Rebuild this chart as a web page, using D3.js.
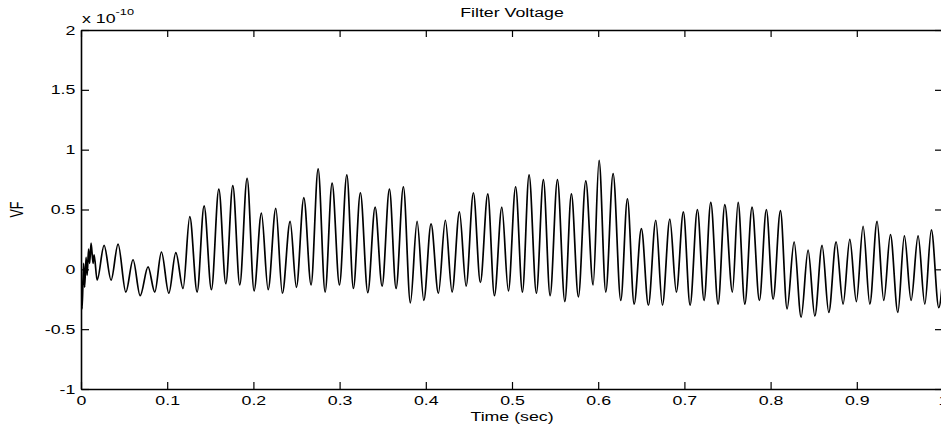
<!DOCTYPE html>
<html>
<head>
<meta charset="utf-8">
<script src="https://cdn.jsdelivr.net/npm/d3@7"></script>
<style>
body { margin: 0; background: #fff; }
text { font-family: "Liberation Sans", Arial, Helvetica, sans-serif; fill: #000; }
</style>
</head>
<body>
<div class="content"></div>
<script>
// Filter voltage trace: time in seconds, value in units of 1e-10.
var timeSec = [
	0.0000, 0.0013, 0.0030, 0.0042, 0.0059, 0.0071, 0.0088, 0.0100, 0.0117, 0.0140,
	0.0152, 0.0187, 0.0268, 0.0349, 0.0430, 0.0520, 0.0604, 0.0686, 0.0778, 0.0856,
	0.0933, 0.1019, 0.1100, 0.1184, 0.1262, 0.1347, 0.1428, 0.1513, 0.1599, 0.1680,
	0.1761, 0.1842, 0.1927, 0.2008, 0.2093, 0.2171, 0.2260, 0.2336, 0.2426, 0.2499,
	0.2585, 0.2669, 0.2751, 0.2832, 0.2913, 0.2998, 0.3084, 0.3160, 0.3241, 0.3327,
	0.3412, 0.3493, 0.3578, 0.3655, 0.3740, 0.3821, 0.3899, 0.3977, 0.4061, 0.4146,
	0.4227, 0.4305, 0.4390, 0.4468, 0.4552, 0.4633, 0.4719, 0.4796, 0.4882, 0.4958,
	0.5042, 0.5121, 0.5198, 0.5283, 0.5364, 0.5442, 0.5527, 0.5613, 0.5689, 0.5770,
	0.5856, 0.5941, 0.6010, 0.6088, 0.6173, 0.6262, 0.6339, 0.6417, 0.6501, 0.6582,
	0.6668, 0.6745, 0.6831, 0.6907, 0.6988, 0.7066, 0.7151, 0.7228, 0.7306, 0.7391,
	0.7469, 0.7557, 0.7623, 0.7701, 0.7785, 0.7870, 0.7951, 0.8029, 0.8114, 0.8191,
	0.8273, 0.8354, 0.8435, 0.8513, 0.8597, 0.8675, 0.8760, 0.8841, 0.8919, 0.8995,
	0.9073, 0.9151, 0.9235, 0.9313, 0.9390, 0.9476, 0.9552, 0.9630, 0.9711, 0.9789,
	0.9865, 0.9951, 1.0000
];
var voltage = [
	0.00, -0.33, 0.05, -0.15, 0.10, -0.05, 0.17, 0.05, 0.22, 0.05,
	0.12, -0.09, 0.20, -0.09, 0.21, -0.19, 0.08, -0.22, 0.02, -0.19,
	0.145, -0.20, 0.14, -0.16, 0.44, -0.19, 0.53, -0.17, 0.67, -0.12,
	0.70, -0.13, 0.76, -0.18, 0.47, -0.17, 0.51, -0.20, 0.40, -0.15,
	0.60, -0.13, 0.84, -0.19, 0.72, -0.13, 0.79, -0.16, 0.64, -0.195,
	0.52, -0.14, 0.67, -0.16, 0.69, -0.28, 0.40, -0.26, 0.38, -0.20,
	0.41, -0.19, 0.48, -0.14, 0.64, -0.11, 0.63, -0.22, 0.52, -0.18,
	0.69, -0.19, 0.79, -0.20, 0.75, -0.22, 0.75, -0.27, 0.63, -0.23,
	0.74, -0.13, 0.91, -0.19, 0.80, -0.26, 0.59, -0.29, 0.34, -0.30,
	0.41, -0.30, 0.42, -0.19, 0.48, -0.30, 0.50, -0.26, 0.56, -0.29,
	0.54, -0.19, 0.56, -0.29, 0.52, -0.26, 0.50, -0.25, 0.49, -0.33,
	0.23, -0.40, 0.16, -0.39, 0.20, -0.36, 0.23, -0.29, 0.25, -0.27,
	0.36, -0.29, 0.40, -0.26, 0.29, -0.36, 0.28, -0.26, 0.28, -0.29,
	0.33, -0.32, -0.05
];
var xTicks = [0, 0.1, 0.2, 0.3, 0.4, 0.5, 0.6, 0.7, 0.8, 0.9, 1];
var yTicks = [-1, -0.5, 0, 0.5, 1, 1.5, 2];

var svgWidth = 941;
var svgHeight = 435;
var margin = {"top" : 30, "left" : 81};
var plotWidth = 862;   // the right edge runs just past the window
var plotHeight = 359;
var textStretch = 1.42;  // the picture's lettering is stretched sideways
var fontSize = 12.5;

var svg = d3.select(".content")
	.append("svg")
	.attr("width", svgWidth)
	.attr("height", svgHeight)
	.style("display", "block");

var x = d3.scaleLinear().domain([0, 1]).range([margin.left, margin.left + plotWidth]);
var y = d3.scaleLinear().domain([-1, 2]).range([margin.top + plotHeight, margin.top]);

var fmt = function(d) { return String(d); };  // plain hyphen minus, as in the picture

// Clip the trace to the axes box.
svg.append("clipPath")
	.attr("id", "plot-clip")
	.append("rect")
	.attr("x", margin.left)
	.attr("y", margin.top)
	.attr("width", plotWidth)
	.attr("height", plotHeight);

// The trace (monotone curve keeps the swings rounded like the scope trace).
var line = d3.line()
	.curve(d3.curveMonotoneX)
	.x(function(d) { return x(d[0]); })
	.y(function(d) { return y(d[1]); });

svg.append("path")
	.datum(d3.zip(timeSec, voltage))
	.attr("clip-path", "url(#plot-clip)")
	.attr("fill", "none")
	.attr("stroke", "#000")
	.attr("stroke-width", 1.7)
	.attr("d", line);

// Axes on all four sides, ticks pointing inward.
svg.append("g")
	.attr("transform", "translate(0," + (margin.top + plotHeight) + ")")
	.call(d3.axisBottom(x).tickValues(xTicks).tickFormat(fmt).tickSizeInner(-7).tickSizeOuter(0).tickPadding(7));

svg.append("g")
	.attr("transform", "translate(0," + margin.top + ")")
	.call(d3.axisTop(x).tickValues(xTicks).tickFormat("").tickSizeInner(-7).tickSizeOuter(0));

svg.append("g")
	.attr("transform", "translate(" + margin.left + ",0)")
	.call(d3.axisLeft(y).tickValues(yTicks).tickFormat(fmt).tickSizeInner(-8).tickSizeOuter(0).tickPadding(4));

svg.append("g")
	.attr("transform", "translate(" + (margin.left + plotWidth) + ",0)")
	.call(d3.axisRight(y).tickValues(yTicks).tickFormat("").tickSizeInner(-8).tickSizeOuter(0));

svg.selectAll(".domain").attr("stroke-width", 1.6);
svg.selectAll(".tick line").attr("stroke-width", 1.2);
svg.selectAll(".tick text")
	.attr("font-size", fontSize)
	.attr("font-family", null)
	.attr("fill", "#000")
	.attr("transform", "scale(" + textStretch + ",1)");

// Titles and labels.
svg.append("text")
	.attr("transform", "translate(" + x(0.5) + ",16.5) scale(" + textStretch + ",1)")
	.attr("text-anchor", "middle")
	.attr("font-size", fontSize)
	.text("Filter Voltage");

svg.append("text")
	.attr("transform", "translate(" + x(0.5) + ",421) scale(" + textStretch + ",1)")
	.attr("text-anchor", "middle")
	.attr("font-size", fontSize)
	.text("Time (sec)");

svg.append("text")
	.attr("transform", "translate(23," + y(0.5) + ") scale(" + textStretch + ",1) rotate(-90)")
	.attr("text-anchor", "middle")
	.attr("font-size", fontSize)
	.text("VF");

// Exponent note above the y axis.
var expo = svg.append("text")
	.attr("transform", "translate(" + (margin.left + 1) + ",22.5) scale(" + textStretch + ",1)")
	.attr("font-size", fontSize);
expo.append("tspan").text("x 10");
expo.append("tspan")
	.attr("dy", -8)
	.attr("font-size", 9)
	.text("-10");
</script>
</body>
</html>
